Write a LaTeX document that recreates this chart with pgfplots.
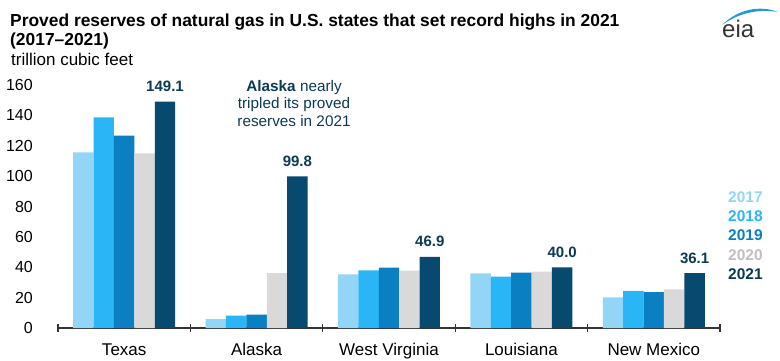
\documentclass[border=0pt]{standalone}
\usepackage{pgfplots}
\pgfplotsset{compat=1.18}
\usepackage{fontspec}
\setmainfont{Liberation Sans}
\definecolor{c17}{HTML}{93D5F6}
\definecolor{c18}{HTML}{29B5F6}
\definecolor{c19}{HTML}{0A80C2}
\definecolor{c20}{HTML}{D9D9D9}
\definecolor{c21}{HTML}{084A6F}
\definecolor{txt21}{HTML}{0B3A55}
\definecolor{eiablue}{HTML}{1E9BD7}
\begin{document}
\begin{tikzpicture}[x=1pt,y=1pt]
\useasboundingbox (0,0) rectangle (780,360);
\node[anchor=base west, inner sep=0, font=\fontsize{17.4}{19}\selectfont\bfseries] at (10,333.3) {Proved reserves of natural gas in U.S. states that set record highs in 2021};
\node[anchor=base west, inner sep=0, font=\fontsize{17.4}{19}\selectfont\bfseries] at (10,314.3) {(2017–2021)};
\node[anchor=base west, inner sep=0, font=\fontsize{17}{19}\selectfont] at (11,295) {trillion cubic feet};
% eia logo
\fill[eiablue] (722,335) .. controls (738,351) and (760,355) .. (778,348) .. controls (760,351) and (740,348) .. (722,335) -- cycle;
\node[anchor=base west, inner sep=0, font=\fontsize{24}{26}\selectfont, text=black!80] at (722,323) {eia};
% legend
\node[anchor=base west, inner sep=0, font=\fontsize{15.5}{18}\selectfont\bfseries, text=c17] at (728,158) {2017};
\node[anchor=base west, inner sep=0, font=\fontsize{15.5}{18}\selectfont\bfseries, text=c18] at (728,139) {2018};
\node[anchor=base west, inner sep=0, font=\fontsize{15.5}{18}\selectfont\bfseries, text=c19] at (728,120) {2019};
\node[anchor=base west, inner sep=0, font=\fontsize{15.5}{18}\selectfont\bfseries, text=black!25] at (728,100) {2020};
\node[anchor=base west, inner sep=0, font=\fontsize{15.5}{18}\selectfont\bfseries, text=txt21] at (728,81) {2021};
% annotation
\node[anchor=north, inner sep=0, align=center, text=txt21, font=\fontsize{15.3}{17.5}\selectfont] at (294,280) {\textbf{Alaska} nearly\\tripled its proved\\reserves in 2021};
\begin{axis}[
  at={(58pt,32pt)}, anchor=south west, scale only axis,
  width=662pt, height=243pt,
  xmin=-0.5, xmax=4.5, ymin=0, ymax=160,
  ybar=0pt, bar width=20.4pt,
  /pgf/number format/assume math mode=true,
  separate axis lines,
  axis x line=bottom, axis y line=left,
  y axis line style={draw=none},
  x axis line style={-, line width=1.2pt, color=black!80},
  xtick={0,...,4},
  xticklabels={Texas,Alaska,West Virginia,Louisiana,New Mexico},
  minor xtick={-0.5,0.5,1.5,2.5,3.5,4.5},
  major tick length=0pt, minor tick length=8pt, tick align=center,
  minor x tick style={line width=1.2pt, color=black!80},
  major x tick style={draw=none},
  ytick={0,20,...,160},
  ytick style={draw=none},
  xticklabel style={anchor=base, yshift=-27pt, inner sep=0pt, font=\fontsize{17}{20}\selectfont},
  yticklabel style={anchor=east, xshift=-25pt, inner sep=0pt, font=\fontsize{16}{19}\selectfont},
  clip=false,
]
\addplot[fill=c17, draw=none] coordinates {(0,115.7) (1,5.9) (2,35.3) (3,36.0) (4,20.2)};
\addplot[fill=c18, draw=none] coordinates {(0,138.7) (1,8.1) (2,38.0) (3,33.8) (4,24.4)};
\addplot[fill=c19, draw=none] coordinates {(0,126.6) (1,8.8) (2,39.7) (3,36.4) (4,23.7)};
\addplot[fill=c20, draw=none] coordinates {(0,115.0) (1,36.2) (2,37.7) (3,37.1) (4,25.5)};
\addplot[fill=c21, draw=none, point meta=y,
  nodes near coords={\pgfmathprintnumber[fixed, fixed zerofill, precision=1]{\pgfplotspointmeta}},
  nodes near coords style={anchor=base, yshift=10pt, inner sep=0pt, text=txt21, font=\fontsize{15}{18}\selectfont\bfseries}]
  coordinates {(0,149.1) (1,99.8) (2,46.9) (3,40.0) (4,36.1)};
\end{axis}
\end{tikzpicture}
\end{document}
